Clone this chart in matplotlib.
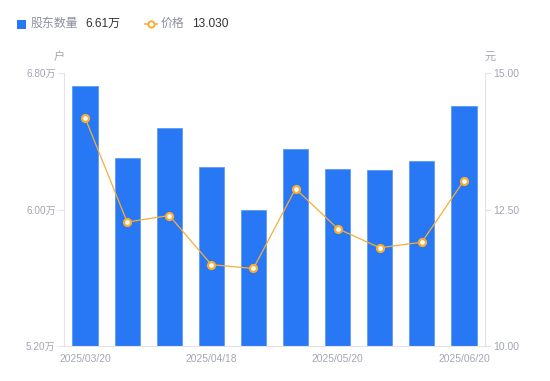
import matplotlib
matplotlib.use("Agg")
import matplotlib.pyplot as plt
from matplotlib.lines import Line2D

plt.rcParams['font.family'] = ['Liberation Sans', 'Noto Sans CJK SC', 'DejaVu Sans']

dates = ["2025/03/20", "2025/03/31", "2025/04/10", "2025/04/18", "2025/04/30",
         "2025/05/09", "2025/05/20", "2025/05/30", "2025/06/10", "2025/06/20"]
holders = [6.724, 6.302, 6.478, 6.249, 5.997, 6.355, 6.237, 6.231, 6.284, 6.605]  # 万户
prices = [14.18, 12.27, 12.39, 11.49, 11.42, 12.88, 12.15, 11.80, 11.90, 13.03]
left_ticks = [5.20, 6.00, 6.80]
right_ticks = [10.00, 12.50, 15.00]
shown_idx = [0, 3, 6, 9]

BLUE = "#2878F5"
ORANGE = "#F7AE33"
GRAY = "#A3A6B4"
AXIS = "#E3E3E8"

fig = plt.figure(figsize=(5.5, 3.81), dpi=100)
ax = fig.add_axes([64/550, 35/381, 421/550, 273/381])
ax2 = ax.twinx()

x = list(range(len(dates)))
ax.bar(x, holders, width=0.6, color=BLUE, edgecolor="#5C9BF7", linewidth=0.6, zorder=2)
ax.set_xlim(-0.5, len(dates) - 0.5)
ax.set_ylim(left_ticks[0], left_ticks[-1])
ax.set_yticks(left_ticks)
ax.set_yticklabels([f"{v:.2f}万" for v in left_ticks])
ax.set_xticks([x[i] for i in shown_idx])
ax.set_xticklabels([dates[i] for i in shown_idx])

ax2.plot(x, prices, color=ORANGE, linewidth=0.9, marker="o", markersize=5,
         markerfacecolor="white", markeredgecolor=ORANGE, markeredgewidth=1.6, zorder=3)
ax2.set_ylim(right_ticks[0], right_ticks[-1])
ax2.set_yticks(right_ticks)
ax2.set_yticklabels([f"{v:.2f}" for v in right_ticks])

for a in (ax, ax2):
    for s in a.spines.values():
        s.set_visible(False)
ax.spines['left'].set_visible(True)
ax.spines['left'].set_color(AXIS)
ax.spines['bottom'].set_visible(True)
ax.spines['bottom'].set_color(AXIS)
ax2.spines['right'].set_visible(True)
ax2.spines['right'].set_color(AXIS)

ax.tick_params(axis='y', colors=AXIS, labelcolor=GRAY, labelsize=7.2, length=4, pad=2)
ax.tick_params(axis='x', length=0, labelcolor=GRAY, labelsize=7.4, pad=6)
ax2.tick_params(axis='y', colors=AXIS, labelcolor=GRAY, labelsize=7.5, length=4, pad=2)

fig.text(59/550, 1 - 57/381, "户", color=GRAY, fontsize=8, ha='center', va='center')
fig.text(490/550, 1 - 57/381, "元", color=GRAY, fontsize=8, ha='center', va='center')

# Legend
fig.patches.append(plt.Rectangle((17/550, 1 - 29/381), 9/550, 9/381, transform=fig.transFigure,
                                 facecolor=BLUE, edgecolor='none'))
fig.text(31/550, 1 - 24/381, "股东数量", color="#8C8F9C", fontsize=8.6, va='center')
fig.text(85/550, 1 - 24/381, "6.61万", color="#333333", fontsize=8.6, va='center')
fig.lines.append(Line2D([145/550, 151/550, 157/550], [1 - 24/381] * 3, transform=fig.transFigure,
                        color=ORANGE, linewidth=1.2, marker='o', markersize=4.5, markevery=[1],
                        markerfacecolor='white', markeredgecolor=ORANGE, markeredgewidth=1.4))
fig.text(161/550, 1 - 24/381, "价格", color="#8C8F9C", fontsize=8.6, va='center')
fig.text(192/550, 1 - 24/381, f"{prices[-1]:.3f}", color="#333333", fontsize=8.6, va='center')

fig.savefig("out.png", dpi=100)
